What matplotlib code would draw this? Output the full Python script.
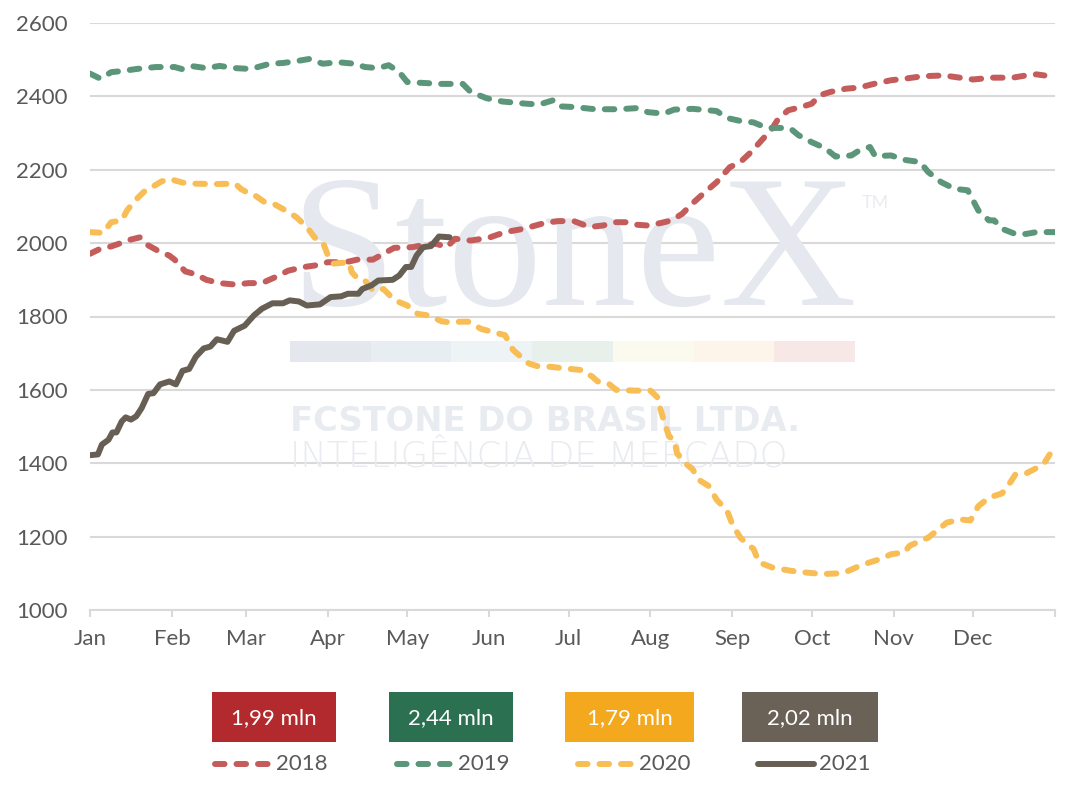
import matplotlib
matplotlib.use("Agg")
import matplotlib.pyplot as plt
from matplotlib.patches import Rectangle
from matplotlib.lines import Line2D

# day of year (0 = 1 Jan) and values
days_2018 = [0, 4, 8, 12, 15, 19, 22, 26, 30, 32, 36, 40, 44, 49, 55, 60, 65, 70, 75, 81,
             85, 90, 95, 98, 101, 107, 111, 115, 122, 126, 131, 135, 138, 144, 151, 157, 164,
             172, 177, 183, 189, 194, 199, 203, 207, 211, 216, 220, 224, 228, 232, 237, 242,
             246, 250, 254, 258, 260, 264, 269, 273, 276, 280, 286, 291, 297, 303, 308, 315,
             323, 329, 334, 341, 349, 354, 358, 361]
vals_2018 = [1971, 1985, 1991, 2001, 2009, 2016, 1994, 1978, 1966, 1955, 1923, 1915, 1900,
             1891, 1887, 1891, 1891, 1907, 1925, 1935, 1939, 1948, 1948, 1950, 1955, 1955,
             1971, 1987, 1989, 1995, 1998, 1989, 2012, 2007, 2015, 2030, 2039, 2055, 2060,
             2060, 2044, 2048, 2057, 2057, 2050, 2048, 2055, 2062, 2080, 2109, 2135, 2166,
             2207, 2221, 2248, 2280, 2312, 2335, 2362, 2371, 2380, 2403, 2412, 2421, 2424,
             2435, 2444, 2448, 2455, 2457, 2451, 2446, 2451, 2451, 2457, 2460, 2457]

days_2019 = [0, 4, 8, 12, 18, 25, 29, 32, 35, 39, 44, 49, 55, 60, 62, 68, 73, 78, 83, 88,
             94, 100, 104, 109, 113, 117, 120, 125, 133, 141, 144, 150, 156, 165, 170, 175,
             177, 183, 191, 200, 207, 211, 217, 221, 228, 237, 241, 246, 251, 256, 262, 265,
             268, 273, 278, 282, 288, 291, 295, 297, 303, 308, 314, 317, 322, 327, 332, 336,
             340, 342, 345, 350, 354, 358, 365]
vals_2019 = [2462, 2448, 2466, 2469, 2475, 2480, 2480, 2480, 2474, 2482, 2477, 2483, 2477,
             2475, 2477, 2489, 2491, 2496, 2502, 2489, 2493, 2489, 2480, 2477, 2485, 2466,
             2439, 2437, 2434, 2434, 2412, 2395, 2386, 2380, 2378, 2389, 2373, 2371, 2365,
             2365, 2368, 2357, 2353, 2364, 2366, 2360, 2341, 2333, 2329, 2314, 2314, 2312,
             2294, 2275, 2259, 2236, 2239, 2253, 2262, 2237, 2239, 2227, 2221, 2194, 2166,
             2148, 2144, 2089, 2062, 2062, 2039, 2025, 2025, 2030, 2030]

days_2020 = [0, 5, 8, 12, 14, 17, 21, 24, 27, 30, 35, 40, 47, 55, 57, 60, 62, 66, 70, 74,
             78, 82, 85, 88, 90, 92, 98, 99, 101, 104, 107, 111, 114, 117, 120, 124, 128,
             133, 135, 143, 148, 157, 160, 163, 166, 169, 174, 179, 186, 190, 192, 196, 199,
             206, 212, 215, 215.5, 217, 219, 221, 222, 225, 228, 230, 234, 237, 241, 243,
             246, 248, 251, 253, 258, 265, 271, 277, 284, 287, 291, 295, 299, 303, 308, 310,
             314, 317, 321, 324, 329, 333, 336, 340, 345, 348, 350, 354, 358, 361, 363]
vals_2020 = [2030, 2028, 2057, 2062, 2089, 2116, 2144, 2155, 2168, 2175, 2165, 2162, 2161,
             2162, 2148, 2136, 2132, 2112, 2105, 2089, 2071, 2044, 2015, 2004, 1966, 1944,
             1948, 1921, 1905, 1898, 1871, 1875, 1853, 1839, 1830, 1807, 1803, 1787, 1785,
             1786, 1766, 1749, 1709, 1690, 1672, 1665, 1663, 1659, 1654, 1636, 1623, 1618,
             1600, 1598, 1598, 1577, 1554, 1518, 1473, 1464, 1428, 1401, 1383, 1356, 1338,
             1301, 1270, 1233, 1197, 1184, 1166, 1130, 1116, 1107, 1102, 1098, 1100, 1107,
             1120, 1130, 1139, 1152, 1157, 1175, 1188, 1197, 1220, 1238, 1247, 1244, 1283,
             1306, 1318, 1347, 1369, 1372, 1387, 1401, 1424]

days_2021 = [0, 3, 4.5, 7, 8.5, 10, 12, 13.5, 15.5, 17.5, 19.5, 22, 24, 26.5, 30, 32.5, 35,
             37.5, 40, 43, 45.5, 48, 52, 54.5, 58.5, 62, 65, 69, 73, 75.5, 79, 82, 87, 91,
             95, 97.5, 101.5, 103, 106.5, 109, 114.5, 117, 119.5, 121.5, 123.5, 126, 129,
             132, 136]
vals_2021 = [1422, 1424, 1451, 1464, 1484, 1484, 1514, 1525, 1519, 1528, 1550, 1589, 1591,
             1615, 1623, 1615, 1652, 1657, 1690, 1713, 1718, 1738, 1731, 1761, 1775, 1803,
             1821, 1836, 1836, 1844, 1841, 1830, 1833, 1853, 1855, 1862, 1862, 1875, 1885,
             1898, 1900, 1912, 1935, 1935, 1966, 1989, 1992, 2018, 2016]

month_starts = [0, 31, 59, 90, 120, 151, 181, 212, 243, 273, 304, 334]
month_labels = ["Jan", "Feb", "Mar", "Apr", "May", "Jun", "Jul", "Aug", "Sep", "Oct",
                "Nov", "Dec"]

years = ["2018", "2019", "2020", "2021"]
totals = ["1,99 mln", "2,44 mln", "1,79 mln", "2,02 mln"]
line_colors = ["#C55C5C", "#5C967A", "#F8BE55", "#675F53"]
box_colors = ["#B22A2E", "#2B7151", "#F4A81D", "#6A6257"]

plt.rcParams["font.family"] = ["Lato", "DejaVu Sans"]
W, H = 1068, 808
LW = 4.3
DASH = (1.6, 2.0)
fig = plt.figure(figsize=(W / 100, H / 100), dpi=100)
ax = fig.add_axes([90 / W, 1 - 610 / H, 965 / W, 587 / H])

# faint watermark
wm = "#E5E8EE"
ax.text(290 / W, 1 - 305 / H, "StoneX", transform=fig.transFigure, fontsize=136,
        family="Liberation Serif", color=wm, ha="left", va="baseline", zorder=1)
ax.text(862 / W, 1 - 208 / H, "TM", transform=fig.transFigure, fontsize=13,
        color="#E9ECF0", ha="left", va="baseline", zorder=1)
bar_cols = ["#E4E8EE", "#E7EDF3", "#EEF3F6", "#E7F0EB", "#FAFAEE", "#FDF4EA", "#F7E7E7"]
seg = (855 - 290) / len(bar_cols)
for i, c in enumerate(bar_cols):
    ax.add_artist(Rectangle(((290 + i * seg) / W, 1 - 362 / H), seg / W, 21 / H,
                            transform=fig.transFigure, color=c, zorder=1, lw=0))
ax.text(290 / W, 1 - 431 / H, "FCSTONE DO BRASIL LTDA.", transform=fig.transFigure,
        fontsize=24.3, fontweight="bold", family="DejaVu Sans", color="#E8EBF0",
        ha="left", va="baseline", zorder=1)
ax.text(290 / W, 1 - 467 / H, "INTELIGÊNCIA DE MERCADO", transform=fig.transFigure,
        fontsize=25.5, fontweight="light", family="DejaVu Sans", color="#E8EBF0",
        ha="left", va="baseline", zorder=1)

series = [(days_2018, vals_2018), (days_2019, vals_2019), (days_2020, vals_2020),
          (days_2021, vals_2021)]
for i, (d, v) in enumerate(series):
    if i < 3:
        ax.plot(d, v, color=line_colors[i], lw=LW, dashes=DASH,
                dash_capstyle="round", solid_capstyle="round", zorder=3)
    else:
        ax.plot(d, v, color=line_colors[i], lw=LW, solid_capstyle="round",
                solid_joinstyle="round", zorder=4)

ax.set_xlim(0, 365)
ax.set_ylim(1000, 2600)
ax.set_yticks(range(1000, 2601, 200))
ax.set_xticks(month_starts + [365])
ax.set_xticklabels(month_labels + [""])
ax.grid(axis="y", color="#D9D9D9", lw=1.5)
ax.set_axisbelow(True)
for s in ["left", "right", "top"]:
    ax.spines[s].set_visible(False)
ax.spines["bottom"].set_color("#D9D9D9")
ax.spines["bottom"].set_linewidth(1.5)
ax.tick_params(axis="y", length=0, pad=16, labelsize=16, labelcolor="#595959")
ax.tick_params(axis="x", length=5, width=1.5, color="#D9D9D9", pad=9, labelsize=16,
               labelcolor="#595959")

# legend boxes and line keys below the chart
box_x = [212, 389, 565, 742]
box_w = [124, 124, 129, 136]
key_x = [215, 397, 578, 758]
for i in range(4):
    fig.add_artist(Rectangle((box_x[i] / W, 1 - 742 / H), box_w[i] / W, 50 / H,
                             transform=fig.transFigure, color=box_colors[i], lw=0))
    fig.text((box_x[i] + box_w[i] / 2) / W, 1 - 718 / H, totals[i], color="white",
             fontsize=16, ha="center", va="center")
    ln = Line2D([key_x[i] / W, (key_x[i] + 56) / W], [1 - 764 / H, 1 - 764 / H],
                transform=fig.transFigure, color=line_colors[i], lw=LW,
                solid_capstyle="round", dash_capstyle="round")
    if i < 3:
        ln.set_dashes(DASH)
    fig.add_artist(ln)
    fig.text((key_x[i] + 61) / W, 1 - 764 / H, years[i], color="#595959", fontsize=16,
             ha="left", va="center")

fig.savefig("out.png", dpi=100)
